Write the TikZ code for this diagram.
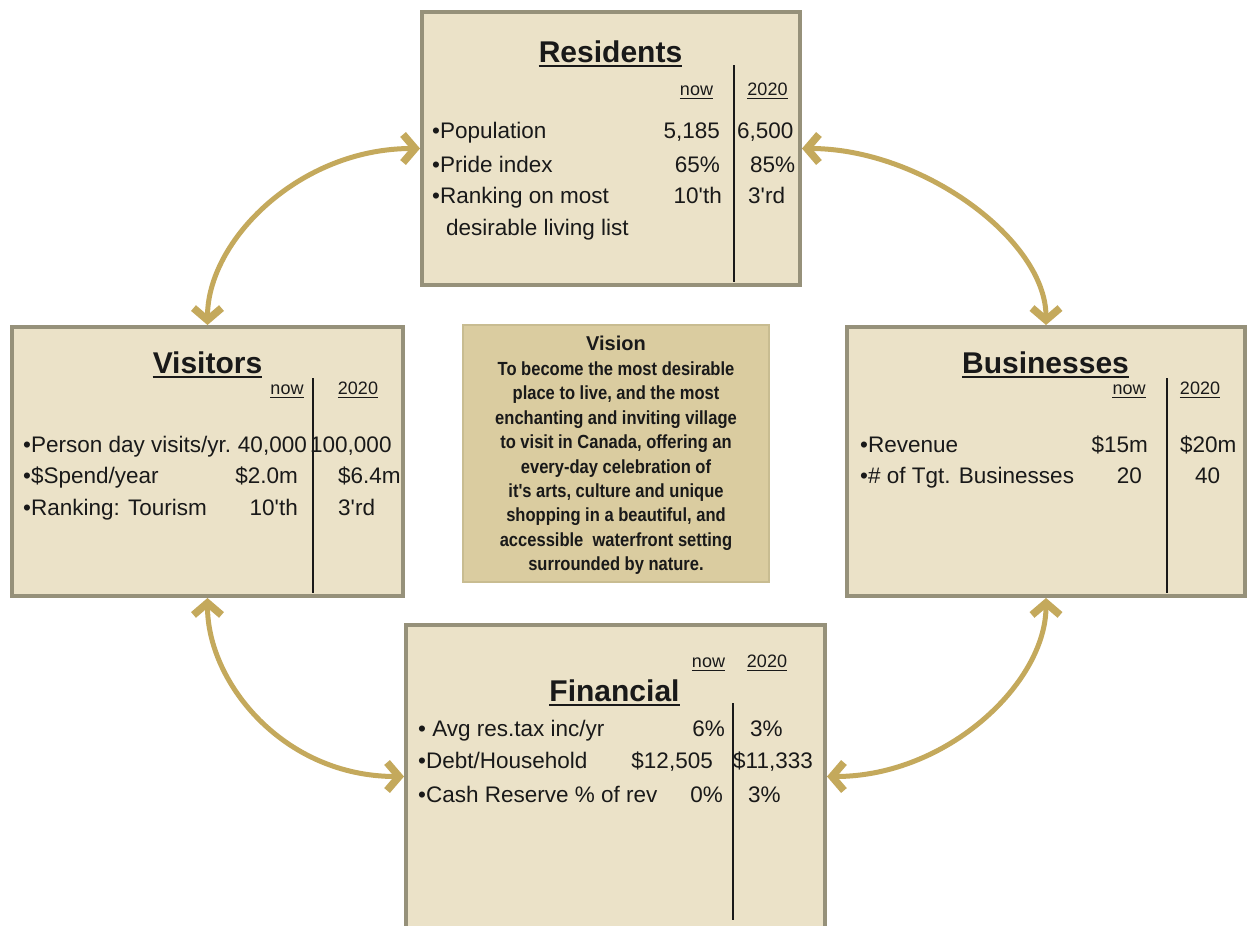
\documentclass[tikz,border=0pt]{standalone}
\usepackage{fontspec}
\setmainfont{Liberation Sans}
\newfontfamily\bodyfont{Liberation Sans}
\newfontfamily\visfont{Liberation Sans}[FakeStretch=0.87]
\usetikzlibrary{arrows.meta}
\definecolor{boxfill}{RGB}{235,226,200}
\definecolor{boxline}{RGB}{150,145,122}
\definecolor{visfill}{RGB}{218,204,160}
\definecolor{visline}{RGB}{200,188,145}
\definecolor{arrcol}{RGB}{196,169,92}
\definecolor{ink}{RGB}{25,25,25}
\begin{document}
\begin{tikzpicture}[x=1pt,y=-1pt,
  panel/.style={draw=boxline,fill=boxfill,line width=4pt,inner sep=0pt},
  vispanel/.style={draw=visline,fill=visfill,line width=2pt,inner sep=0pt},
  link/.style={draw=arrcol,line width=5pt,>={Straight Barb[length=12pt,width=28pt,line width=0pt 1.5]},<->},
  txt/.style={font=\bodyfont\fontsize{22.5}{27}\selectfont,text=ink,inner sep=0pt,anchor=base west},
  numr/.style={font=\bodyfont\fontsize{22.5}{27}\selectfont,text=ink,inner sep=0pt,anchor=base east},
  ttl/.style={font=\bfseries\fontsize{30}{34}\selectfont,text=ink,inner sep=0pt,anchor=base},
  hd/.style={font=\fontsize{18}{20}\selectfont,text=ink,inner sep=0pt,anchor=base},
  vtitle/.style={font=\bfseries\fontsize{20}{22}\selectfont,text=ink,inner sep=0pt,anchor=base},
  vtxt/.style={font=\visfont\bfseries\fontsize{19}{22}\selectfont,text=ink,inner sep=0pt,anchor=base},
  divider/.style={draw=ink,line width=1.5pt},
  ulthick/.style={draw=ink,line width=2pt},
  ulthin/.style={draw=ink,line width=1pt}]
\useasboundingbox[fill=white] (0,0) rectangle (1253,926);

% panels
\node[panel,minimum width=378pt,minimum height=273pt] (res) at (611,148.5) {};
\node[panel,minimum width=391pt,minimum height=269pt] (vis) at (207.5,461.5) {};
\node[panel,minimum width=398pt,minimum height=269pt] (bus) at (1046,461.5) {};
\node[panel,minimum width=419pt,minimum height=303pt] (fin) at (615.5,776.5) {};
\node[vispanel,minimum width=306pt,minimum height=257pt] (vision) at (616,453.5) {};

% connectors
\draw[link] (vis.north) .. controls +(0,-85) and +(-120,0) .. (res.west);
\draw[link] (bus.north) .. controls +(0,-85) and +(120,0) .. (res.east);
\draw[link] (vis.south) .. controls +(0,85) and +(-120,0) .. (fin.west);
\draw[link] (bus.south) .. controls +(0,85) and +(120,0) .. (fin.east);

% ---------- Residents
\node[ttl] (rt) at (610.5,62) {Residents};
\draw[ulthick] ([yshift=-4pt]rt.base west) -- ([yshift=-4pt]rt.base east);
\node[hd] (rnow) at (696.5,95) {now};
\draw[ulthin] ([yshift=-3pt]rnow.base west) -- ([yshift=-3pt]rnow.base east);
\node[hd] (ryr) at (767.5,95) {2020};
\draw[ulthin] ([yshift=-3pt]ryr.base west) -- ([yshift=-3pt]ryr.base east);
\coordinate (rl1) at (734,65); \coordinate (rl2) at (734,282);
\draw[divider] (rl1) -- (rl2);
\node[txt] (r1) at (432,138) {•Population};
\node[numr] (r1a) at (720,138) {5,185};
\node[txt] (r1b) at (737,138) {6,500};
\node[txt] (r2) at (432,172) {•Pride index};
\node[numr] (r2a) at (720,172) {65\%};
\node[txt] (r2b) at (750,172) {85\%};
\node[txt] (r3) at (432,203) {•Ranking on most};
\node[numr] (r3a) at (722,203) {10'th};
\node[txt] (r3b) at (748,203) {3'rd};
\node[txt] (r4) at (446,235) {desirable living list};

% ---------- Visitors
\node[ttl] (vt) at (207.5,373) {Visitors};
\draw[ulthick] ([yshift=-4pt]vt.base west) -- ([yshift=-4pt]vt.base east);
\node[hd] (vnow) at (287,394) {now};
\draw[ulthin] ([yshift=-3pt]vnow.base west) -- ([yshift=-3pt]vnow.base east);
\node[hd] (vyr) at (358,394) {2020};
\draw[ulthin] ([yshift=-3pt]vyr.base west) -- ([yshift=-3pt]vyr.base east);
\coordinate (vl1) at (313,378); \coordinate (vl2) at (313,593);
\draw[divider] (vl1) -- (vl2);
\node[txt] (v1) at (23,452) {•Person day visits/yr.};
\node[numr] (v1a) at (307,452) {40,000};
\node[txt] (v1b) at (310,452) {100,000};
\node[txt] (v2) at (23,483) {•\$Spend/year};
\node[numr] (v2a) at (298,483) {\$2.0m};
\node[txt] (v2b) at (338,483) {\$6.4m};
\node[txt] (v3) at (23,515) {•Ranking: Tourism};
\node[numr] (v3a) at (298,515) {10'th};
\node[txt] (v3b) at (338,515) {3'rd};

% ---------- Businesses
\node[ttl] (bt) at (1045.5,373) {Businesses};
\draw[ulthick] ([yshift=-4pt]bt.base west) -- ([yshift=-4pt]bt.base east);
\node[hd] (bnow) at (1129,394) {now};
\draw[ulthin] ([yshift=-3pt]bnow.base west) -- ([yshift=-3pt]bnow.base east);
\node[hd] (byr) at (1200,394) {2020};
\draw[ulthin] ([yshift=-3pt]byr.base west) -- ([yshift=-3pt]byr.base east);
\coordinate (bl1) at (1167,378); \coordinate (bl2) at (1167,593);
\draw[divider] (bl1) -- (bl2);
\node[txt] (b1) at (860,452) {•Revenue};
\node[numr] (b1a) at (1148,452) {\$15m};
\node[txt] (b1b) at (1180,452) {\$20m};
\node[txt] (b2) at (860,483) {•\# of Tgt. Businesses};
\node[numr] (b2a) at (1142,483) {20};
\node[txt] (b2b) at (1195,483) {40};

% ---------- Financial
\node[hd] (fnow) at (708.5,667) {now};
\draw[ulthin] ([yshift=-3pt]fnow.base west) -- ([yshift=-3pt]fnow.base east);
\node[hd] (fyr) at (767,667) {2020};
\draw[ulthin] ([yshift=-3pt]fyr.base west) -- ([yshift=-3pt]fyr.base east);
\node[ttl] (ft) at (614.5,701) {Financial};
\draw[ulthick] ([yshift=-4pt]ft.base west) -- ([yshift=-4pt]ft.base east);
\coordinate (fl1) at (733,703); \coordinate (fl2) at (733,920);
\draw[divider] (fl1) -- (fl2);
\node[txt] (f1) at (418,736) {• Avg res.tax inc/yr};
\node[numr] (f1a) at (725,736) {6\%};
\node[txt] (f1b) at (750,736) {3\%};
\node[txt] (f2) at (418,768) {•Debt/Household};
\node[numr] (f2a) at (713,768) {\$12,505};
\node[txt] (f2b) at (733,768) {\$11,333};
\node[txt] (f3) at (418,802) {•Cash Reserve \% of rev};
\node[numr] (f3a) at (723,802) {0\%};
\node[txt] (f3b) at (748,802) {3\%};

% ---------- Vision
\node[vtitle] (v0) at (616,350) {Vision};
\node[vtxt] (vv1) at (616,375) {To become the most desirable};
\node[vtxt] (vv2) at (616,399.5) {place to live, and the most};
\node[vtxt] (vv3) at (616,424) {enchanting and inviting village};
\node[vtxt] (vv4) at (616,448.5) {to visit in Canada, offering an};
\node[vtxt] (vv5) at (616,473) {every-day celebration of};
\node[vtxt] (vv6) at (616,497) {it's arts, culture and unique};
\node[vtxt] (vv7) at (616,521.5) {shopping in a beautiful, and};
\node[vtxt] (vv8) at (616,546) {accessible\ \ waterfront setting};
\node[vtxt] (vv9) at (616,570) {surrounded by nature.};
\end{tikzpicture}
\end{document}
